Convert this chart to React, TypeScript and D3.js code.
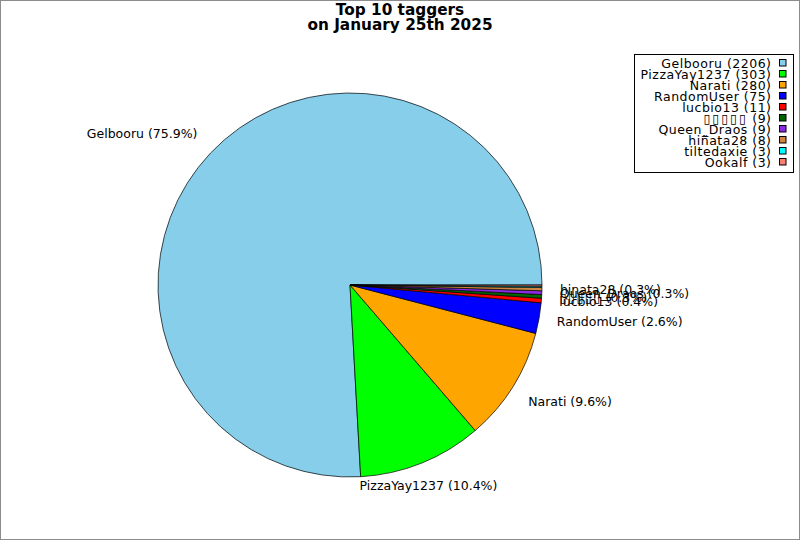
import React from "react";
import * as d3 from "d3";

const names = ["Gelbooru", "PizzaYay1237", "Narati", "RandomUser", "lucbio13", "▯▯▯▯▯", "Queen_Draos", "hiñata28", "tiltedaxie", "Ookalf"];
const labelNames = ["Gelbooru", "PizzaYay1237", "Narati", "RandomUser", "lucbio13", "▯▯▯▯▯", "Queen_Draos", "hinata28", "tiltedaxie", "Ookalf"];
const counts = [2206, 303, 280, 75, 11, 9, 9, 8, 3, 3];
const colors = ["#87CEEB", "#00FF00", "#FFA500", "#0000FF", "#FF0000", "#006400", "#8A2BE2", "#CD853F", "#00FFFF", "#FA8072"];
const titleLines = ["Top 10 taggers", "on January 25th 2025"];

const W = 800, H = 540;
const cx = 350, cy = 285, r = 192, rl = 210;
const FONT = "DejaVu Sans, sans-serif";
const fs = 12.5;
const isTofu = (n: string) => n.startsWith("▯");

export default function App() {
  const total = d3.sum(counts);
  const pie = d3.pie<number>().sort(null).value(d => d)
    .startAngle(Math.PI / 2).endAngle(Math.PI / 2 - 2 * Math.PI);
  const arcs = pie(counts);
  const arcGen = d3.arc<d3.PieArcDatum<number>>().innerRadius(0).outerRadius(r);
  const thr = 0.45;

  return (
    <svg width={W} height={H} style={{ position: "absolute", left: 0, top: 0, background: "#fff" }} fontFamily={FONT}>
      <rect x={0.5} y={0.5} width={W - 1} height={H - 1} fill="#fff" stroke="#8c8c8c" strokeWidth={1} />
      {titleLines.map((t, i) => (
        <text key={i} x={400} y={15 + i * 14.5} textAnchor="middle" fontWeight="bold" fontSize={15.3} fill="#000">{t}</text>
      ))}
      <g transform={`translate(${cx},${cy})`}>
        {arcs.map((a, i) => (
          <path key={i} d={arcGen(a) || ""} fill={colors[i]} stroke="#000" strokeWidth={0.7} strokeLinejoin="round" />
        ))}
      </g>
      {arcs.map((a, i) => {
        const pct = (counts[i] / total) * 100;
        if (pct < 0.2) return null;
        const mid = (a.startAngle + a.endAngle) / 2;
        const c = Math.sin(mid), s = -Math.cos(mid);
        const x = cx + rl * c, y = cy + rl * s;
        const anchor = c > thr ? "start" : c < -thr ? "end" : "middle";
        const by = s > thr ? y + 0.8 * fs : s < -thr ? y - 0.2 * fs : y + 0.35 * fs;
        const n = labelNames[i];
        return (
          <text key={i} x={x} y={by} textAnchor={anchor} fontSize={fs} fill="#000">
            <tspan letterSpacing={isTofu(n) ? 1.5 : 0}>{n}</tspan>
            <tspan>{` (${pct.toFixed(1)}%)`}</tspan>
          </text>
        );
      })}
      <g>
        <rect x={634.5} y={54.5} width={159} height={118} fill="#fff" stroke="#000" strokeWidth={1} />
        {names.map((n, i) => (
          <g key={i}>
            <text x={771.5} y={67.5 + i * 11} textAnchor="end" fontSize={fs} letterSpacing={0.5} fill="#000">
              <tspan letterSpacing={isTofu(n) ? 2 : 0.5}>{n}</tspan>
              <tspan>{` (${counts[i]})`}</tspan>
            </text>
            <rect x={779.5} y={59.5 + i * 11} width={6.5} height={6.5} fill={colors[i]} stroke="#000" strokeWidth={1} />
          </g>
        ))}
      </g>
    </svg>
  );
}
